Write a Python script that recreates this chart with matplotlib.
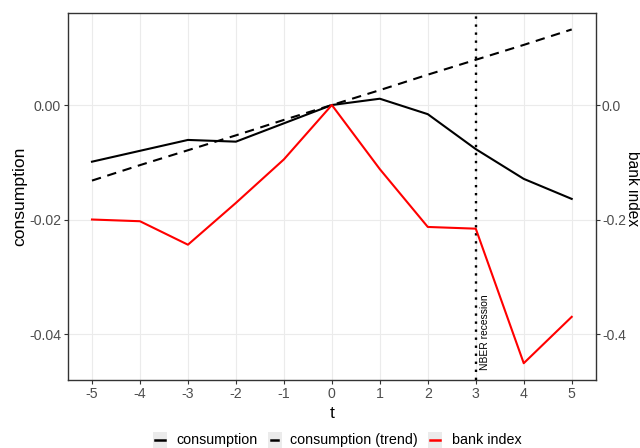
import matplotlib
matplotlib.use("Agg")
import matplotlib.pyplot as plt
from matplotlib.patches import Rectangle
from matplotlib.lines import Line2D

plt.rcParams['font.family'] = ['Liberation Sans', 'DejaVu Sans']

# event time around the recession
t = [-5, -4, -3, -2, -1, 0, 1, 2, 3, 4, 5]
consumption = [-0.0099, -0.0080, -0.0061, -0.0064, -0.0032, 0.0, 0.0011, -0.0016, -0.0077, -0.0129, -0.0164]
consumption_trend = [-0.0132, -0.0105, -0.0079, -0.0053, -0.0026, 0.0, 0.0026, 0.0053, 0.0079, 0.0105, 0.0132]
bank_index = [-0.200, -0.203, -0.244, -0.171, -0.095, 0.0, -0.112, -0.213, -0.216, -0.451, -0.370]

recession_t = 3
x_ticks = [-5, -4, -3, -2, -1, 0, 1, 2, 3, 4, 5]
left_ticks = [0.00, -0.02, -0.04]
left_labels = ["0.00", "-0.02", "-0.04"]
right_ticks = [0.0, -0.2, -0.4]
right_labels = ["0.0", "-0.2", "-0.4"]
sec_scale = 10  # bank index axis = consumption axis * 10

W, H = 640, 448
fig = plt.figure(figsize=(W / 100, H / 100), dpi=100)
ax_l, ax_r, ax_t, ax_b = 68, 595.7, 13.3, 379.7
ax_w, ax_h = ax_r - ax_l, ax_b - ax_t
ax = fig.add_axes([ax_l / W, 1 - ax_b / H, ax_w / W, ax_h / H])

grid_col = "#EBEBEB"
frame_col = "#333333"
tick_col = "#4D4D4D"

ylim = (-0.04798, 0.01602)
ax.set_xlim(-5.5, 5.5)
ax.set_ylim(*ylim)
ax.set_xticks(x_ticks)
ax.set_xticklabels([str(v) for v in x_ticks])
ax.set_yticks(left_ticks)
ax.set_yticklabels(left_labels)
ax.grid(True, color=grid_col, lw=0.8)
ax.set_axisbelow(True)
for s in ax.spines.values():
    s.set_color(frame_col)
    s.set_linewidth(1.0)
ax.tick_params(axis='both', direction='out', length=3, width=0.8, color=frame_col,
               labelcolor=tick_col, labelsize=10.2, pad=2)

ax.plot(t, consumption, color='black', lw=1.5, solid_joinstyle='round', zorder=3)
ax.plot(t, consumption_trend, color='black', lw=1.5, linestyle=(0, (4.5, 3.2)), zorder=3)
ax.axvline(recession_t, color='black', lw=1.7, linestyle=(0, (1, 2.4)), zorder=4)
ax.text(recession_t + 0.19, -0.0396, "NBER recession", rotation=90, ha='center', va='center',
        fontsize=7.4, color='black', zorder=5)

ax.set_xlabel("t", fontsize=12.6)
ax.xaxis.set_label_coords((331.7 - ax_l) / ax_w, -(406 - ax_b) / ax_h)
ax.set_ylabel("consumption", fontsize=12.6, va='center')
ax.yaxis.set_label_coords(-(ax_l - 19.5) / ax_w, 0.5)

ax2 = ax.twinx()
ax2.set_ylim(ylim[0] * sec_scale, ylim[1] * sec_scale)
ax2.set_yticks(right_ticks)
ax2.set_yticklabels(right_labels)
ax2.tick_params(axis='y', direction='out', length=3, width=0.8, color=frame_col,
                labelcolor=tick_col, labelsize=10.0, pad=1.5)
for s in ax2.spines.values():
    s.set_visible(False)
ax2.plot(t, bank_index, color='#FF0000', lw=1.5, zorder=3)
ax2.set_ylabel("bank index", fontsize=11.2, rotation=270, va='center')
ax2.yaxis.set_label_coords((632.5 - ax_l) / ax_w, (ax_b - 189) / ax_h)

# legend along the bottom
def px(x, y):
    return x / W, 1 - y / H

legend_items = [
    ("consumption", 'black', '-', 152.7, 176),
    ("consumption (trend)", 'black', '--', 267.7, 290),
    ("bank index", '#FF0000', '-', 427.7, 451.7),
]
cy = 440
for label, col, ls, bx, tx in legend_items:
    x0, y0 = px(bx, cy + 8.5)
    fig.add_artist(Rectangle((x0, y0), 14 / W, 17 / H, transform=fig.transFigure,
                             facecolor='#EBEBEB', edgecolor='none'))
    if ls == '-':
        lx = [bx + 2, bx + 12]
    else:
        lx = [bx + 3, bx + 10.5]
    xa, ya = px(lx[0], cy)
    xb, _ = px(lx[1], cy)
    fig.add_artist(Line2D([xa, xb], [ya, ya], transform=fig.transFigure, color=col, lw=1.8))
    tx_, ty_ = px(tx, cy)
    fig.text(tx_, ty_, label, ha='left', va='center', fontsize=10.3, color='black')

fig.savefig("out.png", dpi=100)
